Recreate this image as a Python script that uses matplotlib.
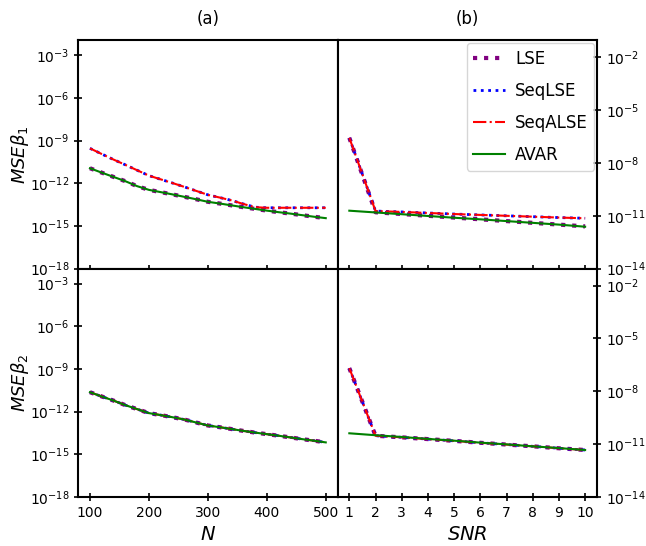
import numpy as np
import matplotlib
matplotlib.use('Agg')
import matplotlib.pyplot as plt

# x values
N = [100, 120, 140, 160, 180, 200, 220, 240, 260, 280, 300,
     320, 340, 360, 380, 400, 420, 440, 460, 480, 500]
SNR = [1, 2, 3, 4, 5, 6, 7, 8, 9, 10]

# log10 of MSE
# beta1 vs N
b1N_lse = [-10.94, -11.25, -11.55, -11.85, -12.2, -12.46, -12.62, -12.78, -12.95, -13.12, -13.3,
           -13.42, -13.55, -13.68, -13.8, -13.92, -14.03, -14.13, -14.24, -14.35, -14.45]
b1N_seq = [-9.54, -9.94, -10.33, -10.7, -11.08, -11.46, -11.72, -11.98, -12.25, -12.53, -12.81,
           -13.0, -13.2, -13.45, -13.68, -13.72, -13.72, -13.72, -13.72, -13.72, -13.72]
b1N_alse = b1N_seq
b1N_avar = b1N_lse

# beta1 vs SNR
b1S_lse = [-6.57, -10.8, -10.9, -11.0, -11.1, -11.2, -11.3, -11.4, -11.5, -11.6]
b1S_seq = [-6.57, -10.73, -10.78, -10.84, -10.9, -10.95, -11.0, -11.05, -11.1, -11.14]
b1S_alse = b1S_seq
b1S_avar = [-10.71, -10.81, -10.91, -11.01, -11.11, -11.2, -11.3, -11.4, -11.5, -11.62]

# beta2 vs N
b2N_all = [-10.64, -10.94, -11.23, -11.55, -11.83, -12.11, -12.25, -12.4, -12.56, -12.77, -12.98,
           -13.1, -13.23, -13.36, -13.48, -13.59, -13.7, -13.82, -13.94, -14.05, -14.17]

# beta2 vs SNR
b2S_lse = [-6.69, -10.53, -10.62, -10.72, -10.82, -10.93, -11.03, -11.13, -11.24, -11.34]
b2S_avar = [-10.39, -10.5, -10.6, -10.71, -10.81, -10.92, -11.02, -11.13, -11.23, -11.34]


def draw(ax, x, lse, seq, alse, avar):
    ax.plot(x, 10.0 ** np.array(lse), color='purple', linestyle=':', linewidth=3, label='LSE')
    ax.plot(x, 10.0 ** np.array(seq), color='blue', linestyle=':', linewidth=2, label='SeqLSE')
    ax.plot(x, 10.0 ** np.array(alse), color='red', linestyle='-.', linewidth=1.5, label='SeqALSE')
    ax.plot(x, 10.0 ** np.array(avar), color='green', linestyle='-', linewidth=1.5, label='AVAR')
    ax.set_yscale('log')


fig, axes = plt.subplots(2, 2, figsize=(6.46, 5.46), dpi=100)
fig.subplots_adjust(left=0.121, right=0.924, top=0.926, bottom=0.090, hspace=0, wspace=0)

draw(axes[0, 0], N, b1N_lse, b1N_seq, b1N_alse, b1N_avar)
draw(axes[0, 1], SNR, b1S_lse, b1S_seq, b1S_alse, b1S_avar)
draw(axes[1, 0], N, b2N_all, b2N_all, b2N_all, b2N_all)
draw(axes[1, 1], SNR, b2S_lse, b2S_lse, b2S_lse, b2S_avar)

for ax in axes[:, 0]:
    ax.set_ylim(10.0 ** -18, 10.0 ** -1.95)
    ax.set_yticks([1e-18, 1e-15, 1e-12, 1e-9, 1e-6, 1e-3])
    ax.set_xlim(80, 520)
    ax.set_xticks([100, 200, 300, 400, 500])
for ax in axes[:, 1]:
    ax.set_ylim(10.0 ** -14, 10.0 ** -1.04)
    ax.set_yticks([1e-14, 1e-11, 1e-8, 1e-5, 1e-2])
    ax.yaxis.tick_right()
    ax.set_xlim(0.55, 10.45)
    ax.set_xticks(SNR)

for ax in axes.flat:
    ax.minorticks_off()
    ax.tick_params(direction='inout', length=6, width=1.2, labelsize=10)
    for s in ax.spines.values():
        s.set_linewidth(1.5)

for ax in axes[0, :]:
    ax.tick_params(labelbottom=False)

axes[0, 0].set_title('(a)', fontsize=12, pad=12)
axes[0, 1].set_title('(b)', fontsize=12, pad=12)
axes[1, 0].set_xlabel('$N$', fontsize=14)
axes[1, 1].set_xlabel('$SNR$', fontsize=14)
axes[0, 0].set_ylabel(r'$MSE\beta_1$', fontsize=13)
axes[1, 0].set_ylabel(r'$MSE\beta_2$', fontsize=13)
for ax in axes[:, 0]:
    ax.yaxis.set_label_coords(-0.18, 0.5)

axes[0, 1].legend(loc='upper right', fontsize=12, labelspacing=0.85,
                  borderaxespad=0.15, handlelength=1.9, handletextpad=0.6)

fig.savefig('out.png', dpi=100)
